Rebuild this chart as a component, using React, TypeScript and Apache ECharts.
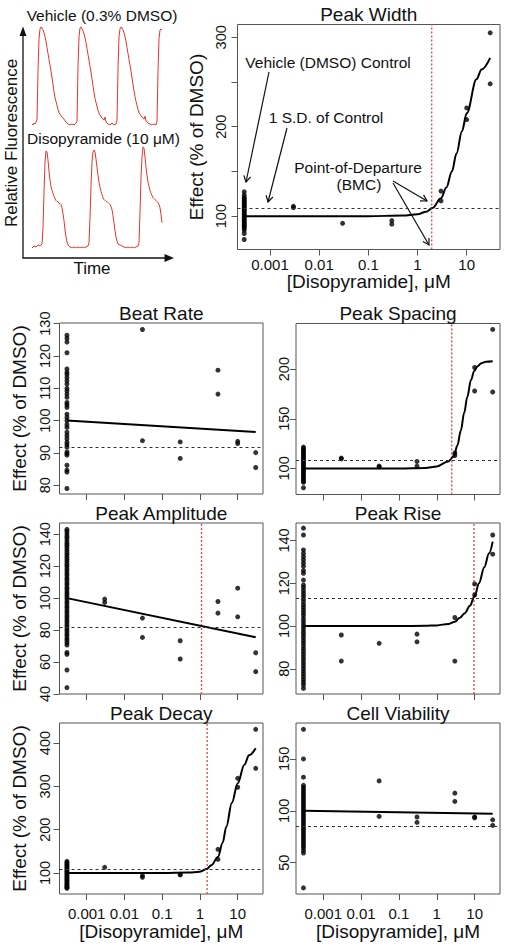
import React, { useEffect, useRef } from 'react';
import * as echarts from 'echarts';

const FONT = '"Liberation Sans", Arial, Helvetica, sans-serif';

// ---------- shared axis data ----------
const CONTROL_CONC = 0.0003;
const xTicks = [0.001, 0.01, 0.1, 1, 10];
const xTickLabels = ['0.001', '0.01', '0.1', '1', '10'];
const xAxisTitle = '[Disopyramide], μM';
const yAxisTitle = 'Effect (% of DMSO)';

// ---------- calcium traces (time in arbitrary units, normalised fluorescence) ----------
const vehicleTime = [0, 1, 2, 3, 4, 5, 6, 7, 8, 9, 10, 11, 12, 13, 14, 15, 16, 17, 18, 19, 20, 21, 22, 23, 24, 25, 26, 27, 28, 30, 32, 34, 36, 38, 40, 42, 44,
  45, 46, 47, 48, 49, 50, 51, 52, 53, 54, 55, 56, 57, 58, 59, 60, 61, 62, 63, 64, 65, 66, 67, 68, 70, 72, 73, 74, 76, 78, 80, 82, 84,
  85, 86, 87, 88, 89, 90, 91, 92, 93, 94, 95, 96, 97, 98, 99, 100, 101, 102, 103, 104, 105, 106, 107, 108, 110, 112, 113, 114, 116, 118, 120, 122, 124, 125,
  126, 127, 128, 129, 130];
const vehicleSignal = [0.01, 0.0, 0.02, 0.01, 0.03, 0.05, 0.55, 0.88, 0.98, 1.0, 0.99, 0.97, 0.94, 0.9, 0.85, 0.79, 0.73, 0.67, 0.61, 0.55, 0.48, 0.41, 0.34, 0.28, 0.24, 0.2, 0.16, 0.13, 0.11, 0.08, 0.06, 0.03, 0.01, 0.0, 0.01, 0.0, 0.02,
  0.04, 0.6, 0.9, 0.99, 1.0, 0.98, 0.96, 0.93, 0.89, 0.84, 0.78, 0.72, 0.66, 0.6, 0.54, 0.47, 0.4, 0.33, 0.27, 0.23, 0.19, 0.15, 0.12, 0.1, 0.07, 0.05, 0.08, 0.03, 0.01, 0.0, 0.02, 0.0, 0.01,
  0.05, 0.58, 0.9, 0.98, 1.0, 0.99, 0.97, 0.94, 0.9, 0.85, 0.79, 0.73, 0.67, 0.61, 0.55, 0.48, 0.41, 0.35, 0.29, 0.24, 0.2, 0.16, 0.13, 0.11, 0.08, 0.06, 0.09, 0.04, 0.02, 0.01, 0.0, 0.01, 0.0, 0.04,
  0.55, 0.88, 0.97, 0.98, 0.97];

const drugTime = [0, 2, 4, 6, 8, 10, 11, 12, 13, 14, 15, 16, 17, 18, 19, 20, 21, 22, 23, 24, 25, 26, 27, 28, 29, 30, 31, 32, 33, 34, 35, 36, 38, 40, 42, 44, 46, 48, 50, 52, 54, 56,
  57, 58, 59, 60, 61, 62, 63, 64, 65, 66, 67, 68, 69, 70, 71, 72, 73, 74, 75, 76, 77, 78, 79, 80, 81, 82, 83, 84, 85, 86, 88, 90, 92, 94, 96, 98, 100, 102, 104, 106,
  107, 108, 109, 110, 111, 112, 113, 114, 115, 116, 117, 118, 119, 120, 121, 122, 123, 124, 125, 126, 127, 128, 129, 130];
const drugSignal = [0.0, 0.02, 0.01, 0.03, 0.02, 0.04, 0.2, 0.55, 0.85, 0.96, 0.95, 0.87, 0.76, 0.67, 0.61, 0.57, 0.54, 0.51, 0.49, 0.47, 0.46, 0.46, 0.44, 0.44, 0.43, 0.4, 0.34, 0.27, 0.18, 0.11, 0.06, 0.03, 0.01, 0.0, 0.01, 0.0, 0.01, 0.0, 0.01, 0.0, 0.01, 0.02,
  0.05, 0.3, 0.62, 0.85, 0.95, 0.97, 0.95, 0.88, 0.8, 0.72, 0.65, 0.6, 0.56, 0.53, 0.5, 0.48, 0.47, 0.46, 0.46, 0.45, 0.44, 0.43, 0.41, 0.38, 0.32, 0.25, 0.17, 0.11, 0.07, 0.04, 0.03, 0.02, 0.01, 0.0, 0.01, 0.0, 0.01, 0.0, 0.01, 0.02,
  0.05, 0.35, 0.7, 0.9, 1.0, 0.99, 0.9, 0.8, 0.72, 0.65, 0.61, 0.57, 0.54, 0.52, 0.5, 0.49, 0.48, 0.47, 0.46, 0.45, 0.43, 0.4, 0.33, 0.25];

// ---------- Peak Width ----------
const peakWidthControl = [127.2, 123.5, 121, 119.5, 118, 116.5, 115, 113.5, 112, 110.5, 109, 107.5, 106, 104.5, 103, 101.5, 100, 98.5, 97, 95.5, 94, 92.5, 91, 89.5, 88, 86.5, 84.3, 80.6, 73.9];
const peakWidthConc = [0.003, 0.003, 0.03, 0.3, 0.3, 3, 3, 10, 10, 30, 30];
const peakWidthEffect = [111, 109.5, 92, 95, 91, 128, 117, 221, 208, 305, 248];
const peakWidthFitConc = [0.0003, 0.01, 0.1, 0.5, 1, 1.5, 2, 3, 3.85, 5, 6.2, 8, 10, 15.8, 20, 30];
const peakWidthFitEffect = [100, 100, 100, 100.6, 102, 105, 109, 120, 132, 150, 170, 195, 215, 253, 264, 277];
const peakWidthSD = 109;
const peakWidthBMC = 1.94;
const peakWidthYTicks = [100, 150, 200, 250, 300];
const peakWidthYLabels = [100, 200, 300];

// ---------- Beat Rate ----------
const beatRateControl = [126.4, 125.4, 124.3, 121, 116, 115, 114.3, 113.3, 112.3, 111.3, 110, 109.2, 108.2, 107.2, 105.6, 104.9, 104.1, 102, 101, 100, 98.8, 97.9, 96.4, 95.4, 94.4, 93.3, 92.6, 91.8, 90.3, 89.8, 89.3, 86.2, 84.7, 84.1, 79];
const beatRateConc = [0.03, 0.03, 0.3, 0.3, 3, 3, 10, 10, 30, 30];
const beatRateEffect = [128.2, 93.8, 93.4, 88.3, 115.6, 108.2, 93.6, 92.9, 90.1, 85.5];
const beatRateFitConc = [0.0003, 30];
const beatRateFitEffect = [100, 96.5];
const beatRateSD = 91.9;
const beatRateYTicks = [80, 90, 100, 110, 120, 130];

// ---------- Peak Spacing ----------
const peakSpacingControl = [121.5, 120, 118.5, 117, 115.5, 114, 112.5, 111, 109.5, 108, 106.5, 105, 103.5, 102, 100.5, 99, 97.5, 96, 94.5, 93, 91.5, 90, 88.5, 87, 86, 80.5];
const peakSpacingConc = [0.003, 0.003, 0.03, 0.03, 0.3, 0.3, 3, 3, 10, 10, 30, 30];
const peakSpacingEffect = [110.4, 109.6, 102.3, 101.6, 107, 102.3, 115.5, 113, 201.7, 178, 240, 177];
const peakSpacingFitConc = [0.0003, 0.01, 0.1, 0.5, 1, 2, 2.8, 3.5, 4.3, 5.3, 6.4, 8, 9.7, 12, 15, 20, 30];
const peakSpacingFitEffect = [100, 100, 100, 100.5, 102, 107, 112, 123, 138, 156, 172, 189, 198, 203, 206, 207.5, 208];
const peakSpacingSD = 108.1;
const peakSpacingBMC = 2.48;
const peakSpacingYTicks = [100, 150, 200];

// ---------- Peak Amplitude ----------
const peakAmplitudeControl = [143, 141.7, 140.1, 138.6, 137.3, 135.7, 134.2, 132.9, 131.5, 130, 128.4, 127.1, 125.6, 124.1, 122.8, 121.2, 119.9, 118.3, 116.9, 115.4, 114.1, 112.5, 111.2, 109.6, 108.3, 106.7, 105.4, 103.8, 102.4, 101, 99.6, 98, 96.7, 95.1, 93.8, 92.2, 90.9, 89.3, 87.9, 86.4, 85.1, 83.5, 82.2, 80.6, 79.3, 77.7, 76.4, 74.8, 73.5, 72, 70.6, 66, 64.8, 55, 44];
const peakAmplitudeConc = [0.003, 0.003, 0.03, 0.03, 0.3, 0.3, 3, 3, 10, 10, 30, 30];
const peakAmplitudeEffect = [99.4, 97.3, 87.5, 75.4, 73.3, 61.9, 97.9, 90.6, 106.2, 88.3, 65.8, 54];
const peakAmplitudeFitConc = [0.0003, 30];
const peakAmplitudeFitEffect = [100, 75.5];
const peakAmplitudeSD = 82;
const peakAmplitudeBMC = 1.1;
const peakAmplitudeYTicks = [40, 60, 80, 100, 120, 140];

// ---------- Peak Rise ----------
const peakRiseControl = [145.8, 142.6, 135.6, 134, 132.5, 131, 129.5, 128, 126, 124.7, 121.5, 119.2, 118, 116.6, 115.3, 114, 112.7, 111.4, 110, 108.8, 107.5, 106.2, 105, 103.6, 102.3, 101, 99.7, 98.4, 97.1, 95.8, 94.5, 93.2, 92, 90.6, 89.3, 88, 86.7, 85.4, 84.1, 82.8, 81.5, 80.2, 78.9, 77.6, 76.3, 75, 73.7, 72.4, 70.8];
const peakRiseConc = [0.003, 0.003, 0.03, 0.3, 0.3, 3, 3, 10, 10, 30, 30];
const peakRiseEffect = [95.8, 83.6, 91.9, 96.2, 92.6, 104, 83.6, 119.7, 114.5, 142.6, 133.6];
const peakRiseFitConc = [0.0003, 0.01, 0.1, 0.5, 1, 2, 3, 4, 5.5, 7.5, 10, 13, 18, 24, 30];
const peakRiseFitEffect = [100, 100, 100, 100.1, 100.3, 101, 102, 103.7, 106, 109.5, 114, 120, 127.5, 134, 139.5];
const peakRiseSD = 113;
const peakRiseBMC = 9.6;
const peakRiseYTicks = [80, 100, 120, 140];

// ---------- Peak Decay ----------
const peakDecayControl = [127, 124, 121, 118, 115, 112, 109, 106, 103, 100, 97, 94, 91, 88, 85, 82, 79, 76, 73, 70, 67, 64.7];
const peakDecayConc = [0.003, 0.03, 0.03, 0.3, 0.3, 3, 3, 10, 10, 30, 30];
const peakDecayEffect = [113, 94, 90, 97, 95.5, 154.7, 131.6, 318.6, 298, 431.8, 341.8];
const peakDecayFitConc = [0.0003, 0.01, 0.1, 0.5, 1, 1.5, 2, 3, 4, 5, 7, 10, 15, 20, 30];
const peakDecayFitEffect = [100, 100, 100, 101, 103, 109, 118, 137, 170, 207, 262, 307, 350, 372, 388];
const peakDecaySD = 109;
const peakDecayBMC = 1.55;
const peakDecayYTicks = [100, 200, 300, 400];

// ---------- Cell Viability ----------
const cellViabilityControl = [178.5, 150, 132.4, 124.5, 122.5, 120.5, 118.5, 116.5, 114.5, 112.5, 110.5, 108.5, 106.5, 104.5, 102.5, 100.5, 98.5, 96.5, 94.5, 92.5, 90.5, 88.5, 86.5, 84.5, 82.5, 80.5, 78.5, 76.5, 74.5, 72.5, 70.5, 68.5, 66.5, 64.5, 62, 59.3, 25.7];
const cellViabilityConc = [0.03, 0.03, 0.3, 0.3, 3, 3, 10, 10, 30, 30];
const cellViabilityEffect = [128.8, 94.6, 94, 88.8, 117, 109, 94, 93.3, 91.3, 85.9];
const cellViabilityFitConc = [0.0003, 30];
const cellViabilityFitEffect = [100, 97.1];
const cellViabilitySD = 84.9;
const cellViabilityYTicks = [50, 100, 150];

// ---------- panel table built from the arrays above ----------
type Panel = {
  title: string;
  control: number[];
  conc: number[];
  effect: number[];
  fitConc: number[];
  fitEffect: number[];
  smooth: boolean;
  sd: number;
  bmc: number | null;
  yRange: [number, number];
  yTicks: number[];
  yLabels: number[];
};

const panels: Panel[] = [
  { title: 'Peak Width', control: peakWidthControl, conc: peakWidthConc, effect: peakWidthEffect, fitConc: peakWidthFitConc, fitEffect: peakWidthFitEffect, smooth: true, sd: peakWidthSD, bmc: peakWidthBMC, yRange: [62.7, 314.3], yTicks: peakWidthYTicks, yLabels: peakWidthYLabels },
  { title: 'Beat Rate', control: beatRateControl, conc: beatRateConc, effect: beatRateEffect, fitConc: beatRateFitConc, fitEffect: beatRateFitEffect, smooth: false, sd: beatRateSD, bmc: null, yRange: [77.3, 130.2], yTicks: beatRateYTicks, yLabels: beatRateYTicks },
  { title: 'Peak Spacing', control: peakSpacingControl, conc: peakSpacingConc, effect: peakSpacingEffect, fitConc: peakSpacingFitConc, fitEffect: peakSpacingFitEffect, smooth: true, sd: peakSpacingSD, bmc: peakSpacingBMC, yRange: [73.7, 246], yTicks: peakSpacingYTicks, yLabels: peakSpacingYTicks },
  { title: 'Peak Amplitude', control: peakAmplitudeControl, conc: peakAmplitudeConc, effect: peakAmplitudeEffect, fitConc: peakAmplitudeFitConc, fitEffect: peakAmplitudeFitEffect, smooth: false, sd: peakAmplitudeSD, bmc: peakAmplitudeBMC, yRange: [40, 147], yTicks: peakAmplitudeYTicks, yLabels: peakAmplitudeYTicks },
  { title: 'Peak Rise', control: peakRiseControl, conc: peakRiseConc, effect: peakRiseEffect, fitConc: peakRiseFitConc, fitEffect: peakRiseFitEffect, smooth: true, sd: peakRiseSD, bmc: peakRiseBMC, yRange: [68.2, 148.2], yTicks: peakRiseYTicks, yLabels: peakRiseYTicks },
  { title: 'Peak Decay', control: peakDecayControl, conc: peakDecayConc, effect: peakDecayEffect, fitConc: peakDecayFitConc, fitEffect: peakDecayFitEffect, smooth: true, sd: peakDecaySD, bmc: peakDecayBMC, yRange: [51.5, 446.4], yTicks: peakDecayYTicks, yLabels: peakDecayYTicks },
  { title: 'Cell Viability', control: cellViabilityControl, conc: cellViabilityConc, effect: cellViabilityEffect, fitConc: cellViabilityFitConc, fitEffect: cellViabilityFitEffect, smooth: false, sd: cellViabilitySD, bmc: null, yRange: [19.8, 184.6], yTicks: cellViabilityYTicks, yLabels: cellViabilityYTicks },
];

// ---------- layout (positions / sizes only) ----------
type Layout = {
  left: number; top: number; width: number; height: number;
  xMin: number; xMax: number;
  showXLabels: boolean; xLabelMargin: number; xNameGap: number;
  showYName: boolean; yLabelMargin: number; yNameGap: number;
};
const SMALL_XMIN = 0.0001905;
const SMALL_XMAX = 46.8;
const layouts: Layout[] = [
  { left: 237.5, top: 24.5, width: 262.5, height: 225, xMin: 0.0002188, xMax: 47.5, showXLabels: true, xLabelMargin: 7, xNameGap: 22, showYName: true, yLabelMargin: 9, yNameGap: 29 },
  { left: 59.5, top: 323, width: 203.5, height: 171, xMin: SMALL_XMIN, xMax: SMALL_XMAX, showXLabels: false, xLabelMargin: 12, xNameGap: 28, showYName: true, yLabelMargin: 7, yNameGap: 31 },
  { left: 296, top: 323.5, width: 204, height: 171, xMin: SMALL_XMIN, xMax: SMALL_XMAX, showXLabels: false, xLabelMargin: 12, xNameGap: 28, showYName: false, yLabelMargin: 5, yNameGap: 31 },
  { left: 59.5, top: 523, width: 203.5, height: 171, xMin: SMALL_XMIN, xMax: SMALL_XMAX, showXLabels: false, xLabelMargin: 12, xNameGap: 28, showYName: true, yLabelMargin: 7, yNameGap: 31 },
  { left: 296, top: 523, width: 204, height: 171, xMin: SMALL_XMIN, xMax: SMALL_XMAX, showXLabels: false, xLabelMargin: 12, xNameGap: 28, showYName: false, yLabelMargin: 5, yNameGap: 31 },
  { left: 59.5, top: 723, width: 203.5, height: 171, xMin: SMALL_XMIN, xMax: SMALL_XMAX, showXLabels: true, xLabelMargin: 12, xNameGap: 28, showYName: true, yLabelMargin: 7, yNameGap: 31 },
  { left: 296, top: 723, width: 204, height: 171, xMin: SMALL_XMIN, xMax: SMALL_XMAX, showXLabels: true, xLabelMargin: 12, xNameGap: 28, showYName: false, yLabelMargin: 5, yNameGap: 31 },
];

const INK = '#111';
const BOX = '#555';
const BMC_RED = '#f0403a';

function xLabelFormatter(v: number) {
  const i = xTicks.findIndex((t) => Math.abs(t - v) / t < 1e-6);
  return i >= 0 ? xTickLabels[i] : '';
}

function text(t: string, x: number, y: number, size: number, extra: any = {}) {
  return {
    type: 'text',
    x,
    y,
    silent: true,
    ...extra,
    style: {
      text: t,
      fill: INK,
      fontSize: size,
      fontFamily: FONT,
      align: 'center',
      verticalAlign: 'middle',
      textAlign: 'center',
      textVerticalAlign: 'middle',
    },
  };
}

function arrow(x0: number, y0: number, x1: number, y1: number, len = 7) {
  const a = Math.atan2(y1 - y0, x1 - x0);
  const h1 = [x1 - len * Math.cos(a - Math.PI / 6), y1 - len * Math.sin(a - Math.PI / 6)];
  const h2 = [x1 - len * Math.cos(a + Math.PI / 6), y1 - len * Math.sin(a + Math.PI / 6)];
  return [
    { type: 'line', silent: true, shape: { x1: x0, y1: y0, x2: x1, y2: y1 }, style: { stroke: INK, lineWidth: 1.2 } },
    { type: 'polyline', silent: true, shape: { points: [h1, [x1, y1], h2] }, style: { stroke: INK, lineWidth: 1.2, fill: null } },
  ];
}

function buildOption() {
  const grid: any[] = [];
  const xAxis: any[] = [];
  const yAxis: any[] = [];
  const series: any[] = [];
  const graphic: any[] = [];

  // --- trace grids ---
  grid.push({ left: 32, top: 27, width: 130, height: 98, show: false, outerBoundsMode: 'none' });
  grid.push({ left: 32, top: 147, width: 130, height: 101, show: false, outerBoundsMode: 'none' });
  for (let g = 0; g < 2; g++) {
    xAxis.push({ type: 'value', gridIndex: g, min: 0, max: 130, show: false });
    yAxis.push({ type: 'value', gridIndex: g, min: 0, max: 1, show: false });
  }
  series.push({
    type: 'line', xAxisIndex: 0, yAxisIndex: 0, showSymbol: false, silent: true,
    data: vehicleTime.map((t, i) => [t, vehicleSignal[i]]),
    lineStyle: { color: '#e8322c', width: 1 },
  });
  series.push({
    type: 'line', xAxisIndex: 1, yAxisIndex: 1, showSymbol: false, silent: true,
    data: drugTime.map((t, i) => [t, drugSignal[i]]),
    lineStyle: { color: '#e8322c', width: 1 },
  });

  // trace axes (arrows)
  graphic.push({ type: 'line', silent: true, shape: { x1: 23, y1: 258, x2: 23, y2: 34 }, style: { stroke: INK, lineWidth: 1.3 } });
  graphic.push({ type: 'polygon', silent: true, shape: { points: [[23, 26.5], [19.5, 36], [26.5, 36]] }, style: { fill: INK } });
  graphic.push({ type: 'line', silent: true, shape: { x1: 22.4, y1: 258, x2: 166, y2: 258 }, style: { stroke: INK, lineWidth: 1.3 } });
  graphic.push({ type: 'polygon', silent: true, shape: { points: [[174, 258], [164.5, 254], [164.5, 262]] }, style: { fill: INK } });
  graphic.push(text('Vehicle (0.3% DMSO)', 102, 15, 15.5));
  graphic.push(text('Disopyramide (10 μM)', 103.5, 138, 15.5));
  graphic.push(text('Relative Fluorescence', 11, 143, 17, { rotation: Math.PI / 2 }));
  graphic.push(text('Time', 92, 268, 17));

  // --- data panels ---
  panels.forEach((p, k) => {
    const L = layouts[k];
    const gi = k + 2;
    grid.push({
      left: L.left, top: L.top, width: L.width, height: L.height,
      show: true, borderColor: BOX, borderWidth: 1, backgroundColor: 'transparent',
      outerBoundsMode: 'none', containLabel: false,
    });
    xAxis.push({
      type: 'log', logBase: 10, gridIndex: gi, min: L.xMin, max: L.xMax,
      axisLine: { show: false },
      axisTick: { show: true, length: 6, customValues: xTicks, lineStyle: { color: BOX, width: 1 } },
      axisLabel: {
        show: L.showXLabels, customValues: xTicks, formatter: xLabelFormatter,
        fontSize: 15, fontFamily: FONT, color: INK, margin: L.xLabelMargin,
      },
      splitLine: { show: false },
      minorTick: { show: false },
      name: L.showXLabels ? xAxisTitle : '',
      nameLocation: 'middle',
      nameGap: L.xNameGap,
      nameTextStyle: { fontSize: 19, fontFamily: FONT, color: INK },
    });
    yAxis.push({
      type: 'value', gridIndex: gi, min: p.yRange[0], max: p.yRange[1],
      axisLine: { show: false },
      axisTick: { show: true, length: 6, customValues: p.yTicks, lineStyle: { color: BOX, width: 1 } },
      axisLabel: {
        show: true, customValues: p.yLabels, rotate: 90,
        fontSize: 14.5, fontFamily: FONT, color: INK, margin: L.yLabelMargin,
      },
      splitLine: { show: false },
      name: L.showYName ? yAxisTitle : '',
      nameLocation: 'middle',
      nameGap: L.yNameGap,
      nameTextStyle: { fontSize: 19, fontFamily: FONT, color: INK },
    });

    // red dotted point-of-departure line, drawn as a two-point series at the BMC
    if (p.bmc !== null) {
      series.push({
        type: 'line', xAxisIndex: gi, yAxisIndex: gi, silent: true,
        showSymbol: false, symbol: 'none',
        data: [[p.bmc, p.yRange[0]], [p.bmc, p.yRange[1]]],
        itemStyle: { color: BMC_RED },
        lineStyle: { color: BMC_RED, type: [2, 2], width: 1.4, opacity: 0.95 },
        z: 1,
      });
    }

    // points + dashed 1 S.D. line
    series.push({
      type: 'scatter', xAxisIndex: gi, yAxisIndex: gi, silent: true,
      symbol: 'circle', symbolSize: 5,
      itemStyle: { color: '#000' },
      data: [
        ...p.control.map((v) => [CONTROL_CONC, v]),
        ...p.conc.map((c, i) => [c, p.effect[i]]),
      ],
      markLine: {
        silent: true, symbol: ['none', 'none'], label: { show: false },
        animation: false,
        lineStyle: { color: '#333', type: [3, 3], width: 1 },
        emphasis: { disabled: true },
        data: [{ yAxis: p.sd }],
      },
      z: 2,
    });
    // fitted curve
    series.push({
      type: 'line', xAxisIndex: gi, yAxisIndex: gi, silent: true,
      showSymbol: false, smooth: p.smooth ? 0.35 : false, smoothMonotone: 'x',
      data: p.fitConc.map((c, i) => [c, p.fitEffect[i]]),
      lineStyle: { color: '#000', width: 2 },
      z: 3,
    });

    graphic.push(text(p.title, L.left + L.width / 2, L.top - 10, 19));
  });

  // --- annotations in the Peak Width panel ---
  graphic.push(text('Vehicle (DMSO) Control', 328, 62, 15.5));
  graphic.push(text('1 S.D. of Control', 326, 117, 15.5));
  graphic.push(text('Point-of-Departure', 358, 167, 15.5));
  graphic.push(text('(BMC)', 359, 184.5, 15.5));
  graphic.push(...arrow(269, 72, 246, 182));
  graphic.push(...arrow(287, 128, 268, 202));
  graphic.push(...arrow(393, 181, 427, 201));
  graphic.push(...arrow(393, 183, 429, 245));

  return {
    backgroundColor: '#fff',
    animation: false,
    grid,
    xAxis,
    yAxis,
    series,
    graphic: { elements: graphic },
  };
}

export default function App() {
  const ref = useRef<HTMLDivElement>(null);
  useEffect(() => {
    document.body.style.margin = '0';
    const chart = echarts.init(ref.current!, null, { renderer: 'svg' });
    chart.setOption(buildOption() as any);
    return () => chart.dispose();
  }, []);
  return <div ref={ref} style={{ width: 508, height: 950 }} />;
}
